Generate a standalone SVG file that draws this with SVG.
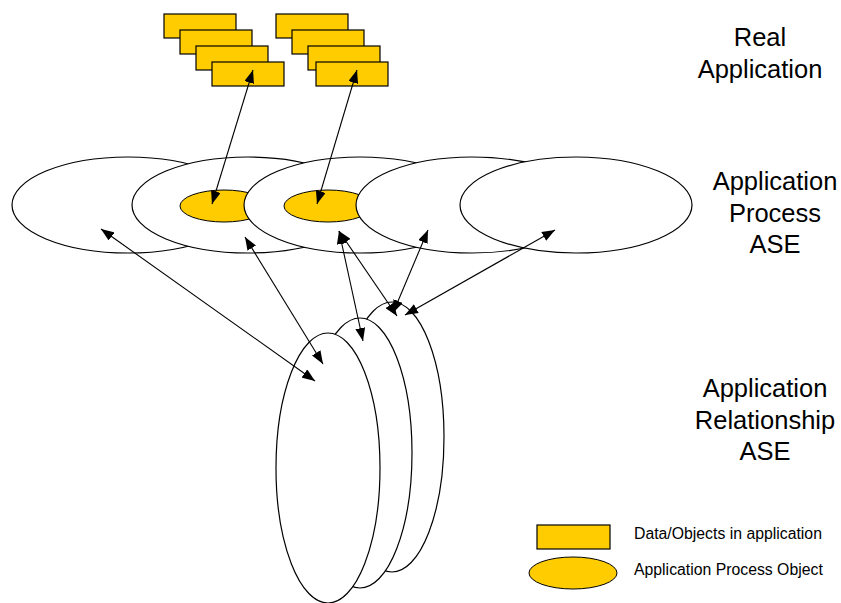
<svg xmlns="http://www.w3.org/2000/svg" width="841" height="603" viewBox="0 0 841 603">
  <style>
    .data{fill:#FFCC00;stroke:#000;stroke-width:1.2}
    .obj{fill:#FFCC00;stroke:#000;stroke-width:1}
    .ell{fill:#fff;stroke:#000;stroke-width:1.2}
    .conn{stroke:#000;stroke-width:1.1;fill:none;marker-start:url(#ah);marker-end:url(#ah)}
    .lbl{font-family:"Liberation Sans",Arial,sans-serif;font-size:25.5px;fill:#000;text-anchor:middle}
    .leg{font-family:"Liberation Sans",Arial,sans-serif;font-size:15.8px;fill:#000}
  </style>
  <defs>
    <marker id="ah" markerUnits="userSpaceOnUse" markerWidth="13" markerHeight="10" refX="13" refY="5" orient="auto-start-reverse">
      <path d="M0,0 L13,5 L0,10 z" fill="#000"/>
    </marker>
  </defs>
  <rect width="841" height="603" fill="#fff"/>

  <g id="data-stack-1">
    <rect class="data" x="164" y="14" width="72" height="24"/>
    <rect class="data" x="180" y="30" width="72" height="24"/>
    <rect class="data" x="196" y="46" width="72" height="24"/>
    <rect class="data" x="212" y="62" width="72" height="24"/>
  </g>
  <g id="data-stack-2">
    <rect class="data" x="276" y="14" width="72" height="24"/>
    <rect class="data" x="292" y="30" width="72" height="24"/>
    <rect class="data" x="308" y="46" width="72" height="24"/>
    <rect class="data" x="316" y="62" width="72" height="24"/>
  </g>

  <g id="ap-ase-1"><ellipse class="ell" cx="128" cy="205" rx="116" ry="48"/></g>
  <g id="ap-ase-2">
    <ellipse class="ell" cx="248" cy="205" rx="116" ry="48"/>
    <ellipse class="obj" cx="224" cy="206" rx="44" ry="16"/>
  </g>
  <g id="ap-ase-3">
    <ellipse class="ell" cx="360" cy="205" rx="116" ry="48"/>
    <ellipse class="obj" cx="328" cy="206" rx="44" ry="16"/>
  </g>
  <g id="ap-ase-4"><ellipse class="ell" cx="472" cy="205" rx="116" ry="48"/></g>
  <g id="ap-ase-5"><ellipse class="ell" cx="576" cy="205" rx="116" ry="48"/></g>

  <g id="ar-ase-3"><ellipse class="ell" cx="392" cy="437" rx="52" ry="135"/></g>
  <g id="ar-ase-2"><ellipse class="ell" cx="360" cy="453" rx="52" ry="135"/></g>
  <g id="ar-ase-1"><ellipse class="ell" cx="328" cy="468" rx="52" ry="135"/></g>

  <g id="connectors">
    <line class="conn" x1="253" y1="70" x2="212" y2="204"/>
    <line class="conn" x1="357" y1="70" x2="317" y2="204"/>
    <line class="conn" x1="101" y1="229" x2="315" y2="381"/>
    <line class="conn" x1="245" y1="237" x2="323" y2="364"/>
    <line class="conn" x1="339" y1="231" x2="363" y2="341"/>
    <line class="conn" x1="339" y1="231" x2="397" y2="316"/>
    <line class="conn" x1="428" y1="230" x2="393" y2="313"/>
    <line class="conn" x1="555" y1="230" x2="405" y2="315"/>
  </g>

  <g id="label-real-application">
    <text class="lbl" x="760" y="46">Real</text>
    <text class="lbl" x="760" y="78">Application</text>
  </g>
  <g id="label-ap-ase">
    <text class="lbl" x="775" y="190">Application</text>
    <text class="lbl" x="775" y="222">Process</text>
    <text class="lbl" x="775" y="253">ASE</text>
  </g>
  <g id="label-ar-ase">
    <text class="lbl" x="765" y="397">Application</text>
    <text class="lbl" x="765" y="429">Relationship</text>
    <text class="lbl" x="765" y="460">ASE</text>
  </g>

  <g id="legend-data">
    <rect class="data" x="537" y="525" width="73" height="24"/>
    <text class="leg" x="634" y="538.5">Data/Objects in application</text>
  </g>
  <g id="legend-object">
    <ellipse class="obj" cx="573" cy="573" rx="44" ry="16"/>
    <text class="leg" x="634" y="575">Application Process Object</text>
  </g>
</svg>
